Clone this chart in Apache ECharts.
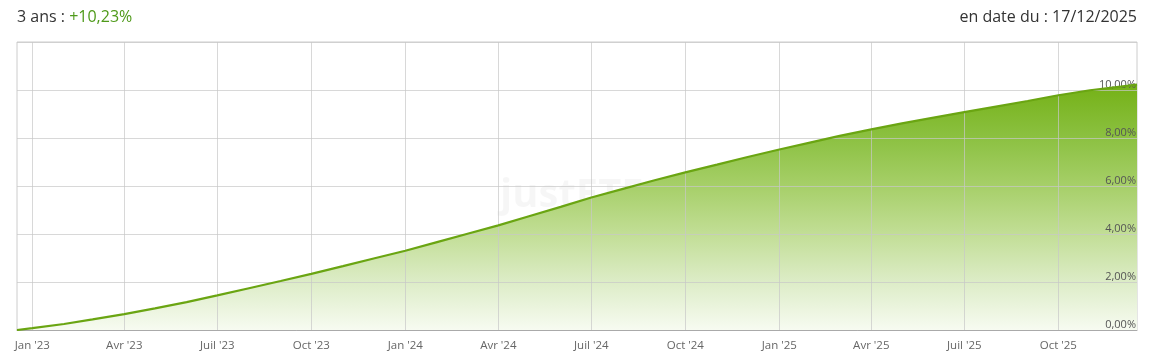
<!DOCTYPE html>
<html>
<head>
<meta charset="utf-8">
<script src="https://cdn.jsdelivr.net/npm/echarts@6/dist/echarts.min.js"></script>
<style>
  html, body { margin: 0; padding: 0; background: #ffffff; }
  #chart { width: 1150px; height: 362px; }
</style>
</head>
<body>
<div id="chart"></div>
<script>
// ---- data ----
const dates = [
  '2022-12-17','2023-01-01','2023-02-01','2023-03-01','2023-04-01','2023-05-01','2023-06-01',
  '2023-07-01','2023-08-01','2023-09-01','2023-10-01','2023-11-01','2023-12-01',
  '2024-01-01','2024-02-01','2024-03-01','2024-04-01','2024-05-01','2024-06-01',
  '2024-07-01','2024-08-01','2024-09-01','2024-10-01','2024-11-01','2024-12-01',
  '2025-01-01','2025-02-01','2025-03-01','2025-04-01','2025-05-01','2025-06-01',
  '2025-07-01','2025-08-01','2025-09-01','2025-10-01','2025-11-01','2025-12-01','2025-12-17'
];
const performance = [
  0.00, 0.08, 0.25, 0.44, 0.66, 0.90, 1.16,
  1.44, 1.74, 2.04, 2.34, 2.66, 2.98,
  3.30, 3.66, 4.00, 4.36, 4.74, 5.13,
  5.52, 5.88, 6.24, 6.57, 6.89, 7.21,
  7.52, 7.82, 8.09, 8.36, 8.61, 8.85,
  9.08, 9.31, 9.54, 9.78, 9.99, 10.14, 10.23
];
const tickDates = [
  '2023-01-01','2023-04-01','2023-07-01','2023-10-01',
  '2024-01-01','2024-04-01','2024-07-01','2024-10-01',
  '2025-01-01','2025-04-01','2025-07-01','2025-10-01'
];
const tickLabels = [
  "Jan '23","Avr '23","Juil '23","Oct '23",
  "Jan '24","Avr '24","Juil '24","Oct '24",
  "Jan '25","Avr '25","Juil '25","Oct '25"
];
const yTicks = [0, 2, 4, 6, 8, 10, 12];
const titleLeft = '3 ans : ';
const titleValue = '+10,23%';
const titleRight = 'en date du : 17/12/2025';
const startDate = '2022-12-17';
const endDate = '2025-12-17';

// ---- build ----
const ts = d => Date.parse(d + 'T00:00:00Z');
const seriesData = dates.map((d, i) => [ts(d), performance[i]]);
const tickTs = tickDates.map(ts);
const labelMap = {};
tickTs.forEach((t, i) => { labelMap[t] = tickLabels[i]; });

const FONT = '"Open Sans", "Noto Sans", sans-serif';
const chart = echarts.init(document.getElementById('chart'), null, { renderer: 'canvas' });

function areaGradient(y0, y1) {
  return new echarts.graphic.LinearGradient(0, y0, 0, y1, [
    { offset: 0.00, color: '#74b116' },
    { offset: 0.22, color: '#8cc142' },
    { offset: 0.41, color: '#a6cf68' },
    { offset: 0.61, color: '#c2de96' },
    { offset: 0.80, color: '#dcecc6' },
    { offset: 1.00, color: '#f7fbf1' }
  ], y0 !== 0 || y1 !== 1);
}

chart.setOption({
  animation: false,
  backgroundColor: '#ffffff',
  title: [
    {
      left: 17, top: 9, padding: 0,
      text: '{a|' + titleLeft + '}{b|' + titleValue + '}',
      textStyle: {
        fontFamily: FONT, fontWeight: 'normal', fontSize: 16,
        rich: {
          a: { fontSize: 16, color: '#333333', fontFamily: FONT, fontWeight: 'normal' },
          b: { fontSize: 16, color: '#4f9a1a', fontFamily: FONT, fontWeight: 'normal' }
        }
      }
    },
    {
      right: 13, top: 9, padding: 0,
      text: titleRight,
      textStyle: { fontSize: 16, color: '#333333', fontWeight: 'normal', fontFamily: FONT }
    }
  ],
  graphic: [{
    type: 'text', left: 500, top: 176, z: 0, silent: true,
    style: { text: 'justETF', fontSize: 40, fontWeight: 'bold', fontFamily: FONT, fill: 'rgba(0,0,0,0.035)' }
  }],
  grid: { left: 17, right: 13, top: 42, bottom: 32, show: true, borderColor: '#cccccc', borderWidth: 1 },
  xAxis: {
    type: 'value',
    z: 4,
    min: ts(startDate),
    max: ts(endDate),
    axisLine: { show: true, lineStyle: { color: '#aaaaaa', width: 1 } },
    axisTick: { show: false, customValues: tickTs },
    axisLabel: {
      customValues: tickTs,
      formatter: v => labelMap[v] || '',
      color: '#666666', fontSize: 11.5, fontFamily: FONT, margin: 10,
      hideOverlap: false
    },
    splitLine: { show: true, lineStyle: { color: 'rgba(200,200,200,0.7)', width: 1 } }
  },
  yAxis: {
    type: 'value',
    z: 4,
    position: 'right',
    min: yTicks[0], max: yTicks[yTicks.length - 1], interval: 2,
    axisLine: { show: false },
    axisTick: { show: false },
    axisLabel: {
      inside: true,
      margin: 1,
      verticalAlign: 'bottom',
      color: '#555555', fontSize: 11, fontFamily: FONT,
      formatter: v => v >= 12 ? '' : v.toFixed(2).replace('.', ',') + '%'
    },
    splitLine: { show: true, lineStyle: { color: 'rgba(200,200,200,0.7)', width: 1 } }
  },
  series: [
    {
      type: 'line',
      data: seriesData,
      showSymbol: false,
      z: 2,
      lineStyle: { width: 0 },
      areaStyle: { color: areaGradient(0, 1), opacity: 1 }
    },
    {
      type: 'line',
      data: seriesData,
      showSymbol: false,
      z: 6,
      lineStyle: { color: '#6aa512', width: 2.2 }
    }
  ]
});

// use a global gradient spanning from the curve's top value down to the axis
const yTop = chart.convertToPixel({ yAxisIndex: 0 }, Math.max.apply(null, performance));
const yBottom = chart.convertToPixel({ yAxisIndex: 0 }, yTicks[0]);
chart.setOption({ series: [{ areaStyle: { color: areaGradient(yTop, yBottom) } }, {}] });
</script>
</body>
</html>
